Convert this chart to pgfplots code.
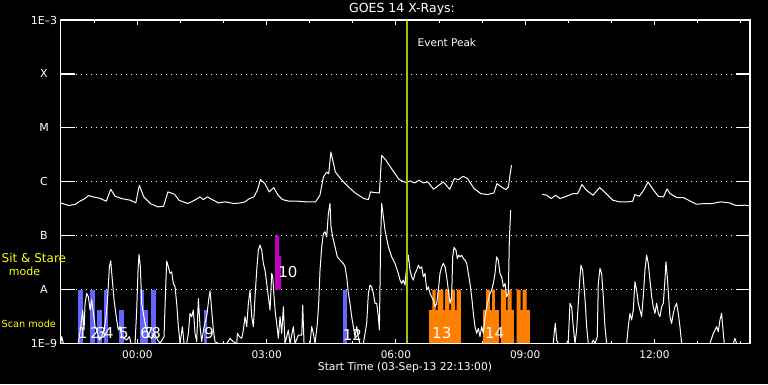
\documentclass[border=0pt]{standalone}
\usepackage{pgfplots}
\pgfplotsset{compat=1.18}
\usepackage{fontspec}
\setmainfont{DejaVu Sans}
\definecolor{scanblue}{RGB}{100,100,255}
\definecolor{sitmag}{RGB}{192,0,192}
\definecolor{xorange}{RGB}{255,128,0}
\definecolor{peakgreen}{RGB}{160,200,0}
\definecolor{labyellow}{RGB}{255,255,0}
\begin{document}
\begin{tikzpicture}
\fill[black] (0pt,0pt) rectangle (768pt,384pt);
\useasboundingbox (0pt,0pt) rectangle (768pt,384pt);
\begin{axis}[at={(60.5pt,40.5pt)}, anchor=south west, scale only axis,
  width=689.5pt, height=323.5pt,
  xmin=-1.7833, xmax=14.2167, ymin=-9, ymax=-3,
  axis line style={white, line width=1.2pt},
  xtick={0,3,6,9,12}, minor xtick={-1,1,2,4,5,7,8,10,11,13,14},
  xticklabels={00:00,03:00,06:00,09:00,12:00},
  tick align=inside, major tick length=5pt, minor tick length=3pt,
  tick style={white, line width=1pt},
  xticklabel style={white, font=\fontsize{10.5}{12}\selectfont, anchor=center, yshift=-11.5pt},
  ytick={-8,-7,-6,-5,-4}, yticklabels={}, ytick style={draw=none},
  ymajorgrids, grid style={white, line width=0.8pt, dash pattern=on 1pt off 4pt},
]
% blue scan-mode bars (full)
\addplot[fill=scanblue, draw=none] coordinates {(-1.383,-9) (-1.383,-8) (-1.267,-8) (-1.267,-9)} -- cycle;
\addplot[fill=scanblue, draw=none] coordinates {(-1.097,-9) (-1.097,-8) (-0.981,-8) (-0.981,-9)} -- cycle;
\addplot[fill=scanblue, draw=none] coordinates {(-0.773,-9) (-0.773,-8) (-0.673,-8) (-0.673,-9)} -- cycle;
\addplot[fill=scanblue, draw=none] coordinates {(0.063,-9) (0.063,-8) (0.155,-8) (0.155,-9)} -- cycle;
\addplot[fill=scanblue, draw=none] coordinates {(0.318,-9) (0.318,-8) (0.434,-8) (0.434,-9)} -- cycle;
\addplot[fill=scanblue, draw=none] coordinates {(4.765,-9) (4.765,-8) (4.858,-8) (4.858,-9)} -- cycle;
% blue (partial)
\addplot[fill=scanblue, draw=none] coordinates {(-0.943,-9) (-0.943,-8.38) (-0.826,-8.38) (-0.826,-9)} -- cycle;
\addplot[fill=scanblue, draw=none] coordinates {(-0.425,-9) (-0.425,-8.38) (-0.316,-8.38) (-0.316,-9)} -- cycle;
\addplot[fill=scanblue, draw=none] coordinates {(0.155,-9) (0.155,-8.38) (0.248,-8.38) (0.248,-9)} -- cycle;
\addplot[fill=scanblue, draw=none] coordinates {(1.548,-9) (1.548,-8.38) (1.617,-8.38) (1.617,-9)} -- cycle;
% sit & stare
\addplot[fill=sitmag, draw=none] coordinates {(3.195,-8) (3.195,-7) (3.288,-7) (3.288,-7.38) (3.334,-7.38) (3.334,-8)} -- cycle;
% orange bars
\addplot[fill=xorange, draw=none] coordinates {(6.768,-9) (6.768,-8.38) (6.845,-8.38) (6.845,-8) (6.923,-8) (6.923,-8.38) (6.969,-8.38) (6.969,-8) (7.100,-8) (7.100,-8.38) (7.139,-8.38) (7.139,-8) (7.239,-8) (7.239,-8.38) (7.278,-8.38) (7.278,-8) (7.371,-8) (7.371,-8.38) (7.410,-8.38) (7.410,-8) (7.510,-8) (7.510,-9)} -- cycle;
\addplot[fill=xorange, draw=none] coordinates {(8.021,-9) (8.021,-8.38) (8.091,-8.38) (8.091,-8) (8.183,-8) (8.183,-8.38) (8.230,-8.38) (8.230,-8) (8.299,-8) (8.299,-8.38) (8.392,-8.38) (8.392,-9)} -- cycle;
\addplot[fill=xorange, draw=none] coordinates {(8.438,-9) (8.438,-8) (8.555,-8) (8.555,-8.38) (8.593,-8.38) (8.593,-8) (8.686,-8) (8.686,-8.38) (8.740,-8.38) (8.740,-9)} -- cycle;
\addplot[fill=xorange, draw=none] coordinates {(8.802,-9) (8.802,-8) (8.895,-8) (8.895,-8.38) (8.941,-8.38) (8.941,-8) (9.035,-8) (9.035,-8.38) (9.111,-8.38) (9.111,-9)} -- cycle;
% GOES long channel
\addplot[white, line width=1pt, line join=round] coordinates {(-1.78,-6.392) (-1.589,-6.441) (-1.436,-6.417) (-1.334,-6.361) (-1.231,-6.318) (-1.129,-6.256) (-1.027,-6.281) (-0.874,-6.306) (-0.720,-6.361) (-0.618,-6.139) (-0.516,-6.269) (-0.363,-6.312) (-0.158,-6.343) (-0.036,-6.392) (0.046,-6.065) (0.148,-6.281) (0.302,-6.404) (0.475,-6.466) (0.608,-6.454) (0.710,-6.188) (0.864,-6.232) (0.966,-6.343) (1.170,-6.404) (1.324,-6.343) (1.457,-6.281) (1.528,-6.330) (1.630,-6.281) (1.733,-6.330) (1.886,-6.392) (2.039,-6.373) (2.244,-6.404) (2.397,-6.392) (2.499,-6.373) (2.601,-6.312) (2.704,-6.281) (2.785,-6.157) (2.857,-5.960) (2.959,-6.034) (3.061,-6.188) (3.164,-6.108) (3.266,-6.250) (3.368,-6.330) (3.521,-6.361) (3.726,-6.361) (3.930,-6.373) (4.135,-6.373) (4.237,-6.250) (4.318,-5.910) (4.390,-5.824) (4.441,-5.849) (4.492,-5.448) (4.594,-5.818) (4.748,-5.972) (4.901,-6.096) (5.054,-6.207) (5.259,-6.312) (5.361,-6.330) (5.412,-6.188) (5.514,-6.201) (5.617,-6.207) (5.668,-5.509) (5.770,-5.602) (5.923,-5.787) (6.077,-5.960) (6.230,-6.015) (6.332,-5.985) (6.434,-6.022) (6.536,-5.972) (6.639,-6.022) (6.741,-6.003) (6.874,-6.139) (6.996,-6.065) (7.099,-6.003) (7.201,-6.096) (7.252,-6.139) (7.354,-5.941) (7.456,-5.960) (7.559,-5.898) (7.661,-5.941) (7.814,-6.127) (7.967,-6.219) (8.121,-6.238) (8.274,-6.207) (8.345,-6.034) (8.448,-6.096) (8.550,-6.145) (8.611,-6.096) (8.652,-5.849) (8.683,-5.694)};
\addplot[white, line width=1pt, line join=round] coordinates {(9.398,-6.232) (9.500,-6.250) (9.603,-6.312) (9.705,-6.250) (9.807,-6.312) (9.960,-6.269) (10.114,-6.219) (10.216,-6.219) (10.318,-6.052) (10.420,-6.157) (10.574,-6.250) (10.727,-6.108) (10.880,-6.219) (11.034,-6.343) (11.187,-6.373) (11.391,-6.373) (11.494,-6.361) (11.545,-6.238) (11.647,-6.269) (11.749,-6.157) (11.851,-6.003) (11.954,-6.127) (12.086,-6.269) (12.209,-6.281) (12.290,-6.133) (12.362,-6.219) (12.516,-6.293) (12.669,-6.293) (12.822,-6.355) (12.976,-6.417) (13.180,-6.404) (13.333,-6.404) (13.538,-6.373) (13.742,-6.392) (13.896,-6.441) (14.100,-6.435) (14.202,-6.447)};
% GOES short channel
\addplot[white, line width=1pt, line join=round] coordinates {(-1.78,-9) (-1.755,-8.873) (-1.716,-9) (-1.368,-9) (-1.314,-8.688) (-1.268,-8.380) (-1.237,-8.750) (-1.213,-8.256) (-1.175,-8.071) (-1.136,-8.133) (-1.097,-8.380) (-1.059,-8.194) (-1.020,-8.441) (-0.981,-8.688) (-0.943,-8.750) (-0.881,-8.935) (-0.827,-8.873) (-0.773,-8.750) (-0.726,-8.503) (-0.688,-8.133) (-0.649,-7.577) (-0.618,-7.466) (-0.587,-7.762) (-0.541,-8.194) (-0.479,-8.565) (-0.440,-8.750) (-0.401,-8.688) (-0.363,-8.873) (-0.309,-8.904) (-0.247,-8.935) (-0.185,-8.873) (-0.146,-9) (-0.053,-9) (-0.015,-8.380) (0.016,-7.639) (0.039,-7.349) (0.070,-7.577) (0.101,-8.256) (0.140,-8.441) (0.179,-8.627) (0.217,-8.750) (0.279,-8.873) (0.333,-8.904) (0.387,-8.812) (0.449,-8.904) (0.527,-9) (0.619,-8.873) (0.650,-8.133) (0.681,-7.472) (0.720,-7.577) (0.759,-7.700) (0.797,-7.670) (0.836,-7.886) (0.875,-7.948) (0.913,-8.256) (0.952,-8.688) (0.991,-9) (1.045,-8.688) (1.084,-9) (1.145,-9) (1.184,-8.812) (1.223,-8.441) (1.261,-8.503) (1.300,-8.380) (1.339,-8.812) (1.377,-8.966) (1.416,-8.164) (1.455,-8.688) (1.493,-8.966) (1.548,-8.688) (1.609,-8.503) (1.664,-8.133) (1.687,-8.022) (1.725,-8.380) (1.764,-8.750) (1.803,-8.966) (1.880,-9) (2.074,-9) (2.151,-8.904) (2.228,-8.966) (2.306,-9) (2.321,-8.812) (2.368,-8.873) (2.422,-8.904) (2.460,-8.750) (2.499,-8.503) (2.538,-8.688) (2.576,-8.256) (2.615,-8.009) (2.654,-8.503) (2.692,-8.688) (2.731,-8.133) (2.770,-7.639) (2.808,-7.268) (2.847,-7.176) (2.886,-7.268) (2.924,-7.515) (2.963,-7.639) (3.002,-7.886) (3.040,-8.133) (3.079,-8.380) (3.118,-7.700) (3.141,-7.762) (3.172,-8.133) (3.203,-8.441) (3.234,-8.627) (3.272,-8.904) (3.311,-8.503) (3.350,-8.812) (3.388,-8.318) (3.427,-9) (3.504,-8.750) (3.543,-9) (3.620,-8.688) (3.659,-9) (3.737,-8.843) (3.814,-8.843) (3.837,-8.287) (3.868,-9) (4.007,-9) (4.046,-8.688) (4.084,-8.812) (4.123,-9) (4.177,-8.627) (4.208,-8.256) (4.239,-7.639) (4.278,-7.207) (4.317,-6.960) (4.355,-6.929) (4.394,-7.022) (4.433,-6.589) (4.471,-6.404) (4.494,-6.836) (4.533,-7.022) (4.587,-7.207) (4.641,-7.392) (4.703,-7.454) (4.781,-7.515) (4.819,-7.577) (4.858,-7.762) (4.897,-8.071) (4.935,-8.256) (4.974,-8.503) (5.013,-8.688) (5.051,-8.873) (5.090,-8.688) (5.129,-8.904) (5.167,-9) (5.245,-9) (5.322,-8.627) (5.361,-8.071) (5.399,-7.917) (5.438,-7.948) (5.477,-8.071) (5.515,-8.256) (5.554,-8.256) (5.593,-8.503) (5.616,-8.750) (5.647,-7.022) (5.670,-6.404) (5.709,-6.651) (5.747,-6.898) (5.825,-7.207) (5.902,-7.392) (5.979,-7.515) (6.057,-7.700) (6.095,-7.824) (6.134,-7.886) (6.172,-7.824) (6.211,-7.917) (6.234,-7.701) (6.288,-7.361) (6.327,-7.639) (6.366,-7.762) (6.404,-7.824) (6.443,-7.701) (6.482,-7.639) (6.520,-7.546) (6.559,-7.608) (6.598,-7.577) (6.636,-7.762) (6.675,-7.701) (6.714,-8.009) (6.752,-7.948) (6.791,-8.071) (6.830,-8.133) (6.868,-8.194) (6.907,-8.318) (6.946,-8.256) (6.984,-8.009) (7.023,-7.701) (7.062,-7.577) (7.100,-7.515) (7.139,-7.577) (7.178,-7.762) (7.216,-8.009) (7.255,-8.256) (7.294,-8.133) (7.317,-7.392) (7.348,-7.219) (7.394,-7.268) (7.425,-7.423) (7.456,-7.361) (7.487,-7.392) (7.526,-7.361) (7.565,-7.423) (7.603,-7.454) (7.642,-7.515) (7.681,-7.701) (7.719,-7.886) (7.758,-8.133) (7.797,-8.441) (7.835,-8.688) (7.874,-8.812) (7.913,-8.719) (7.951,-8.873) (7.990,-8.688) (8.028,-8.812) (8.067,-8.503) (8.106,-8.318) (8.144,-8.194) (8.183,-8.071) (8.222,-8.009) (8.260,-7.886) (8.299,-7.701) (8.338,-7.392) (8.376,-7.454) (8.415,-7.701) (8.454,-7.762) (8.493,-7.948) (8.531,-7.886) (8.570,-8.133) (8.609,-8.071) (8.632,-7.083) (8.663,-6.528)};
\addplot[white, line width=1pt, line join=round] coordinates {(9.398,-9) (9.652,-9) (9.676,-8.781) (9.699,-8.627) (9.730,-8.935) (9.768,-9) (9.962,-9) (10.001,-8.935) (10.039,-8.256) (10.078,-8.318) (10.116,-8.688) (10.155,-9) (10.194,-8.750) (10.232,-8.256) (10.271,-7.762) (10.294,-7.546) (10.333,-7.639) (10.364,-7.948) (10.395,-8.256) (10.426,-8.688) (10.464,-9) (10.542,-9) (10.580,-8.935) (10.619,-9) (10.673,-8.873) (10.696,-7.886) (10.735,-7.608) (10.774,-7.700) (10.812,-8.133) (10.851,-8.688) (10.890,-9) (11.354,-9) (11.392,-8.688) (11.431,-8.441) (11.470,-8.565) (11.508,-8.380) (11.547,-7.855) (11.586,-8.009) (11.624,-8.256) (11.663,-8.380) (11.702,-8.503) (11.740,-8.133) (11.779,-7.639) (11.818,-7.361) (11.856,-7.515) (11.895,-7.824) (11.934,-8.133) (11.973,-8.318) (12.011,-8.441) (12.050,-8.256) (12.089,-8.441) (12.127,-8.503) (12.166,-8.318) (12.205,-8.256) (12.243,-7.824) (12.266,-7.485) (12.297,-7.762) (12.328,-8.133) (12.359,-8.503) (12.398,-8.627) (12.437,-8.441) (12.475,-8.318) (12.514,-8.256) (12.553,-8.441) (12.591,-8.688) (12.630,-9) (13.287,-9) (13.326,-8.904) (13.365,-8.812) (13.403,-8.750) (13.442,-8.688) (13.481,-8.780) (13.519,-8.565) (13.558,-8.441) (13.597,-8.812) (13.620,-9) (13.829,-9) (13.867,-8.904) (13.906,-9) (14.2,-9)};
% event peak
\addplot[peakgreen, line width=2pt] coordinates {(6.258,-9) (6.258,-3)};
% bar labels
\begin{scope}[every node/.style={white, font=\fontsize{15}{15}\selectfont, inner sep=0pt, anchor=west}]
\node at (axis cs:-1.383,-8.806) {1};
\node at (axis cs:-1.097,-8.806) {2};
\node at (axis cs:-0.943,-8.806) {3};
\node at (axis cs:-0.773,-8.806) {4};
\node at (axis cs:-0.425,-8.806) {5};
\node at (axis cs:0.063,-8.806) {6};
\node at (axis cs:0.155,-8.806) {7};
\node at (axis cs:0.318,-8.806) {8};
\node at (axis cs:1.548,-8.806) {9};
\node at (axis cs:3.265,-7.670) {10};
\node at (axis cs:4.765,-8.843) {12};
\node at (axis cs:6.838,-8.80) {13};
\node at (axis cs:8.067,-8.80) {14};
\end{scope}
\end{axis}
\begin{axis}[at={(60.5pt,40.5pt)}, anchor=south west, scale only axis,
  width=689.5pt, height=323.5pt,
  xmin=-1.7833, xmax=14.2167, ymin=-9, ymax=-3,
  axis line style={white, line width=1.2pt},
  xtick=\empty, ytick={-9,-8,-7,-6,-5,-4,-3},
  yticklabels={1E\textendash 9,A,B,C,M,X,1E\textendash 3},
  tick align=inside, major tick length=14pt,
  tick style={white, line width=1.2pt},
  yticklabel style={white, font=\fontsize{11}{13}\selectfont, anchor=center, xshift=-16.5pt},
]
\end{axis}
\node[white, font=\fontsize{12.5}{14}\selectfont] at (402pt,374.5pt) {GOES 14 X-Rays:};
\node[white, font=\fontsize{10.7}{12}\selectfont] at (405pt,16pt) {Start Time (03-Sep-13 22:13:00)};
\node[white, font=\fontsize{10.5}{12}\selectfont, anchor=west, inner sep=0pt] at (417.5pt,341.5pt) {Event Peak};
\node[labyellow, font=\fontsize{12}{14}\selectfont, anchor=west, inner sep=0pt] at (1.5pt,125.5pt) {Sit \& Stare};
\node[labyellow, font=\fontsize{11}{13}\selectfont] at (24.5pt,113pt) {mode};
\node[labyellow, font=\fontsize{9.7}{12}\selectfont, anchor=west, inner sep=0pt] at (1.5pt,60.5pt) {Scan mode};
\end{tikzpicture}
\end{document}
